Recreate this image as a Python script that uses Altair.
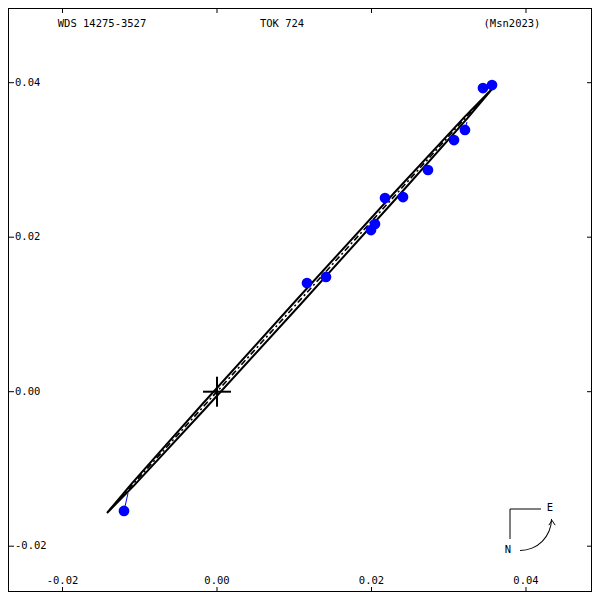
import math
import altair as alt
import pandas as pd

# ---------------- data ----------------
X_DOMAIN = [-0.027055, 0.048544]
Y_DOMAIN = [-0.025929, 0.049670]

obs_x = [-0.01204, 0.01165, 0.01411, 0.01994, 0.02045, 0.02175, 0.02408,
         0.02731, 0.03068, 0.03210, 0.03443, 0.03560]
obs_y = [-0.01544, 0.01407, 0.01485, 0.02093, 0.02171, 0.02507, 0.02520,
         0.02870, 0.03258, 0.03388, 0.03931, 0.03970]

orbit_x = [0.035600, 0.032116, 0.022890, 0.010392, -0.002029, -0.011045,
           -0.014240, -0.010757, -0.001531, 0.010968, 0.023389, 0.032405, 0.035600]
orbit_y = [0.039184, 0.035638, 0.025689, 0.012003, -0.001755, -0.011894,
           -0.015702, -0.012156, -0.002207, 0.011479, 0.025237, 0.035376, 0.039184]

node_x = [-0.0139, 0.0352]
node_y = [-0.0153, 0.0388]

oc_obs_x = [-0.01204, 0.03210]
oc_obs_y = [-0.01544, 0.03388]
oc_orb_x = [-0.01152, 0.03236]
oc_orb_y = [-0.01314, 0.03491]

tick_vals = [-0.02, 0.0, 0.02, 0.04]
tick_labels = ["-0.02", "0.00", "0.02", "0.04"]

title_left = "WDS 14275-3527"
title_mid = "TOK 724"
title_right = "(Msn2023)"

W = H = 584
FONT = "DejaVu Sans Mono"
FS = 10.5

# ---------------- tables ----------------
obs_df = pd.DataFrame({"x": obs_x, "y": obs_y})
orbit_df = pd.DataFrame({"x": orbit_x, "y": orbit_y, "i": list(range(len(orbit_x)))})
node_df = pd.DataFrame({"x": node_x, "y": node_y})
oc_df = pd.DataFrame({"x": oc_obs_x, "y": oc_obs_y, "x2": oc_orb_x, "y2": oc_orb_y})
tick_df = pd.DataFrame({"v": tick_vals, "label": tick_labels})
origin_df = pd.DataFrame({"x": [0.0], "y": [0.0]})
one = pd.DataFrame({"a": [0]})

xs = alt.Scale(domain=X_DOMAIN, nice=False, zero=False)
ys = alt.Scale(domain=Y_DOMAIN, nice=False, zero=False)

X = lambda f: alt.X(f, type="quantitative", scale=xs, axis=None)
Y = lambda f: alt.Y(f, type="quantitative", scale=ys, axis=None)

orbit = alt.Chart(orbit_df).mark_line(color="black", strokeWidth=2).encode(
    x=X("x"), y=Y("y"), order="i:Q")
nodes = alt.Chart(node_df).mark_line(color="black", strokeWidth=1.6,
                                     strokeDash=[6, 3, 2, 3]).encode(x=X("x"), y=Y("y"))
oc = alt.Chart(oc_df).mark_rule(color="#0000ff", strokeWidth=1).encode(
    x=X("x"), y=Y("y"), x2="x2:Q", y2="y2:Q")
obs = alt.Chart(obs_df).mark_point(filled=True, color="#0000ff", size=115, opacity=1).encode(
    x=X("x"), y=Y("y"))

cross_h = alt.Chart(origin_df).mark_rule(color="black", strokeWidth=2, xOffset=-14, x2Offset=14).encode(
    x=X("x"), x2="x:Q", y=Y("y"))
cross_v = alt.Chart(origin_df).mark_rule(color="black", strokeWidth=2, yOffset=-15, y2Offset=15).encode(
    x=X("x"), y=Y("y"), y2="y:Q")

tb = alt.Chart(tick_df).mark_rule(color="black").encode(x=X("v"), y=alt.value(H), y2=alt.value(H - 5))
tt = alt.Chart(tick_df).mark_rule(color="black").encode(x=X("v"), y=alt.value(0), y2=alt.value(5))
tl = alt.Chart(tick_df).mark_rule(color="black").encode(y=Y("v"), x=alt.value(0), x2=alt.value(6))
tr = alt.Chart(tick_df).mark_rule(color="black").encode(y=Y("v"), x=alt.value(W), x2=alt.value(W - 5))

lb = alt.Chart(tick_df).mark_text(font=FONT, fontSize=FS, align="center", baseline="middle",
                                  color="black").encode(x=X("v"), y=alt.value(573), text="label:N")
ll = alt.Chart(tick_df).mark_text(font=FONT, fontSize=FS, align="left", baseline="middle",
                                  color="black").encode(y=Y("v"), x=alt.value(7), text="label:N")

def txt(s, xpos, ypos, align="center"):
    return alt.Chart(one).mark_text(font=FONT, fontSize=FS, align=align, baseline="middle",
                                    color="black", text=s).encode(x=alt.value(xpos), y=alt.value(ypos))

t1 = txt(title_left, 94, 16)
t2 = txt(title_mid, 274, 16)
t3 = txt(title_right, 504, 16)

# compass
c_h = alt.Chart(one).mark_rule(color="black").encode(x=alt.value(502), x2=alt.value(533), y=alt.value(501))
c_v = alt.Chart(one).mark_rule(color="black").encode(x=alt.value(502), y=alt.value(501), y2=alt.value(531))
c_e = txt("E", 542, 500)
c_n = txt("N", 500, 542)
c_arc = alt.Chart(one).mark_arc(color="black", radius=32, radius2=31,
                                theta=math.pi / 2, theta2=math.pi).encode(x=alt.value(512), y=alt.value(511))
c_head = alt.Chart(one).mark_point(shape="M -1 1 L 0 -0.5 L 1 1", size=40, filled=False,
                                   color="black", strokeWidth=1, opacity=1).encode(
    x=alt.value(544), y=alt.value(514))

chart = alt.layer(
    orbit, nodes, oc, obs, cross_h, cross_v,
    tb, tt, tl, tr, lb, ll, t1, t2, t3,
    c_h, c_v, c_e, c_n, c_arc, c_head
).properties(width=W, height=H, padding=0, autosize="none").configure_view(
    stroke="black", strokeWidth=2)

chart.save("out.html", embed_options={"renderer": "svg", "actions": False})
